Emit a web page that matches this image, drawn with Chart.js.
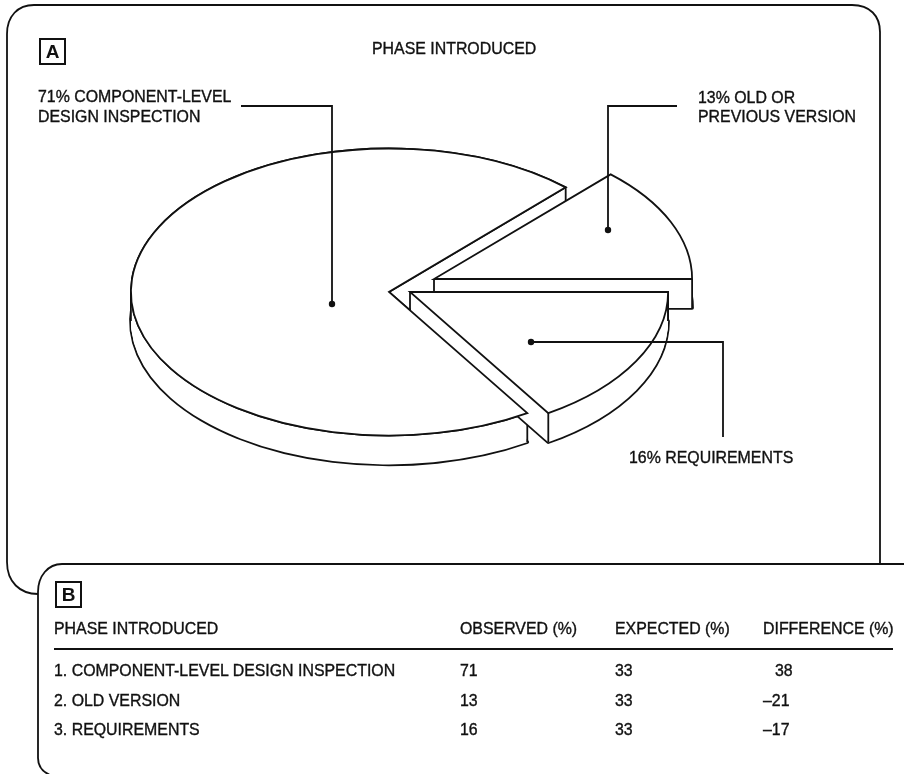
<!DOCTYPE html>
<html>
<head>
<meta charset="utf-8">
<script src="https://cdn.jsdelivr.net/npm/chart.js@4"></script>
<style>
  html, body { margin: 0; padding: 0; background: #fff; }
  #page { position: relative; width: 904px; height: 774px; overflow: hidden; }
  #pie { position: absolute; left: 0; top: 0; }
  .txt {
    position: absolute; white-space: pre; color: #111;
    font: 15.9px/14px "Liberation Sans", Arial, sans-serif;
    -webkit-text-stroke: 0.35px #111;
  }
  .tag {
    position: absolute; box-sizing: border-box; width: 27px; height: 27px;
    border: 2px solid #111; text-align: center; color: #111;
    font: bold 19px/24px "Liberation Sans", Arial, sans-serif;
  }
</style>
</head>
<body>
<div id="page">
  <canvas id="pie" width="904" height="774"></canvas>
</div>
<script>
const phases = ["COMPONENT-LEVEL DESIGN INSPECTION", "OLD VERSION", "REQUIREMENTS"];
const observed = [71, 13, 16];
const expected = [33, 33, 33];
const difference = [38, -21, -17];
const columns = ["PHASE INTRODUCED", "OBSERVED (%)", "EXPECTED (%)", "DIFFERENCE (%)"];

// how the flat pie is laid over to look 3D
const TILT = 0.556;
const DEPTH = 29;
const sliceShiftX = [0, 45, 21];
const sliceShiftY = [0, -13, 0];
const LINE = 1.8;

const page = document.getElementById("page");

function addText(text, x, y) {
  const el = document.createElement("div");
  el.className = "txt";
  el.textContent = text;
  el.style.left = x + "px";
  el.style.top = (y - 7) + "px";
  page.appendChild(el);
}

function addTag(text, x, y) {
  const el = document.createElement("div");
  el.className = "tag";
  el.textContent = text;
  el.style.left = x + "px";
  el.style.top = y + "px";
  page.appendChild(el);
}

addTag("A", 39, 38);
addTag("B", 55, 581);
addText("PHASE INTRODUCED", 372, 49);
addText(observed[0] + "% COMPONENT-LEVEL", 38, 97);
addText("DESIGN INSPECTION", 38, 117);
addText(observed[1] + "% OLD OR", 698, 98);
addText("PREVIOUS VERSION", 698, 117);
addText(observed[2] + "% REQUIREMENTS", 629, 458);

// table under the pie
const colX = [54, 460, 615, 763];
const rowY = [671, 701, 730];
columns.forEach(function(c, i) { addText(c, colX[i], 629); });
phases.forEach(function(p, i) {
  addText((i + 1) + ". " + p, colX[0], rowY[i]);
  addText(String(observed[i]), colX[1], rowY[i]);
  addText(String(expected[i]), colX[2], rowY[i]);
  const d = difference[i];
  addText(d < 0 ? "\u2013" + Math.abs(d) : String(d), d < 0 ? colX[3] : colX[3] + 12, rowY[i]);
});

function line(ctx, pts) {
  ctx.beginPath();
  ctx.moveTo(pts[0][0], pts[0][1]);
  for (let i = 1; i < pts.length; i++) ctx.lineTo(pts[i][0], pts[i][1]);
  ctx.lineWidth = LINE;
  ctx.strokeStyle = "#111";
  ctx.stroke();
}

function dot(ctx, x, y) {
  ctx.beginPath();
  ctx.arc(x, y, 3.2, 0, Math.PI * 2);
  ctx.fillStyle = "#111";
  ctx.fill();
}

const framePlugin = {
  id: "frames",
  beforeDraw(chart) {
    const ctx = chart.ctx;
    ctx.save();
    ctx.lineWidth = LINE;
    ctx.strokeStyle = "#111";
    // panel A
    ctx.beginPath();
    ctx.moveTo(38, 594);
    ctx.bezierCurveTo(20, 594, 7, 582, 7, 562);
    ctx.lineTo(7, 34);
    ctx.bezierCurveTo(7, 16, 18, 5, 34, 5);
    ctx.lineTo(852, 5);
    ctx.bezierCurveTo(870, 5, 880, 16, 880, 32);
    ctx.lineTo(880, 564);
    ctx.stroke();
    // panel B
    ctx.beginPath();
    ctx.moveTo(904, 564);
    ctx.lineTo(62, 564);
    ctx.bezierCurveTo(48, 564, 38, 576, 38, 592);
    ctx.lineTo(38, 758);
    ctx.bezierCurveTo(38, 766, 43, 772, 50, 775);
    ctx.stroke();
    // table rule
    line(ctx, [[54, 649], [893, 649]]);
    ctx.restore();
  }
};

const strokeState = { skip: false, thick: false };

// stroke in page space so the squashed pie keeps an even line weight
function patchStroke(ctx) {
  ctx.stroke = function() {
    if (strokeState.skip) return;
    ctx.save();
    ctx.setTransform(1, 0, 0, 1, 0, 0);
    if (strokeState.thick) {
      ctx.lineWidth = LINE * 2;
      ctx.lineJoin = "round";
    }
    CanvasRenderingContext2D.prototype.stroke.call(ctx);
    ctx.restore();
  };
}

function drawFace(ctx, arc, i, drop) {
  ctx.save();
  ctx.translate(sliceShiftX[i], sliceShiftY[i] + drop);
  ctx.translate(arc.x, arc.y);
  ctx.scale(1, TILT);
  ctx.translate(-arc.x, -arc.y);
  arc.draw(ctx);
  ctx.restore();
}

function drawEdges(ctx, arc, i) {
  const angles = [arc.startAngle, arc.endAngle];
  for (let k = -4; k <= 4; k++) {
    const a = k * Math.PI;
    if (a > arc.startAngle && a < arc.endAngle) angles.push(a);
  }
  const sx = arc.x + sliceShiftX[i];
  const sy = arc.y + sliceShiftY[i];
  angles.forEach(function(a) {
    const x = sx + Math.cos(a) * arc.outerRadius;
    const y = sy + Math.sin(a) * arc.outerRadius * TILT;
    line(ctx, [[x, y], [x, y + DEPTH]]);
  });
  line(ctx, [[sx, sy], [sx, sy + DEPTH]]);
}

const solidPiePlugin = {
  id: "solidPie",
  beforeDatasetsDraw(chart) {
    const ctx = chart.ctx;
    const arcs = chart.getDatasetMeta(0).data;
    arcs.forEach(function(arc, i) {
      patchStroke(ctx);
      // lower rim doubled, the inner half gets covered by the wall fill
      strokeState.thick = true;
      drawFace(ctx, arc, i, DEPTH);
      strokeState.thick = false;
      strokeState.skip = true;
      for (let d = DEPTH; d > 0; d--) drawFace(ctx, arc, i, d);
      strokeState.skip = false;
      delete ctx.stroke;
      drawEdges(ctx, arc, i);
      patchStroke(ctx);
      drawFace(ctx, arc, i, 0);
    });
    // the big slice sits over the wall of the slice in front of it
    drawFace(ctx, arcs[0], 0, 0);
    delete ctx.stroke;
    return false;
  },
  afterDraw(chart) {
    const ctx = chart.ctx;
    ctx.save();
    line(ctx, [[241, 106], [332, 106], [332, 304]]);
    dot(ctx, 332, 304);
    line(ctx, [[677, 106], [608, 106], [608, 230]]);
    dot(ctx, 608, 230);
    line(ctx, [[531, 342], [723, 342], [723, 437]]);
    dot(ctx, 531, 342);
    ctx.restore();
  }
};

new Chart(document.getElementById("pie"), {
  type: "pie",
  data: {
    labels: phases,
    datasets: [{
      data: observed,
      backgroundColor: "#ffffff",
      borderColor: "#111",
      borderWidth: LINE,
      borderJoinStyle: "miter"
    }]
  },
  options: {
    responsive: false,
    animation: false,
    rotation: 147.6,
    layout: { padding: { left: 130, right: 256, top: 33, bottom: 223 } },
    plugins: { legend: { display: false }, tooltip: { enabled: false } }
  },
  plugins: [framePlugin, solidPiePlugin]
});
</script>
</body>
</html>
